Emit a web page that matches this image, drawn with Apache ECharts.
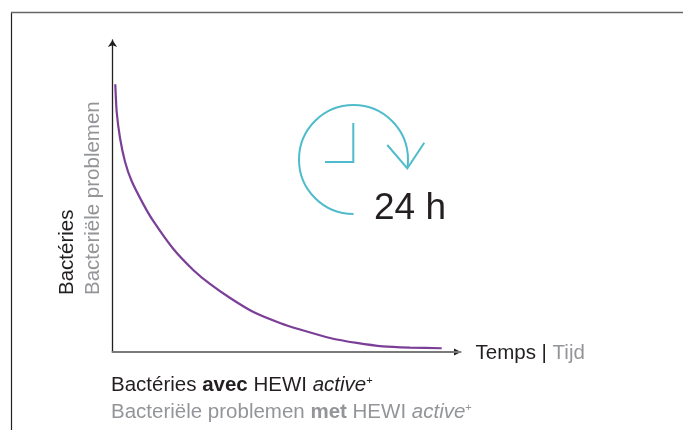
<!DOCTYPE html>
<html>
<head>
<meta charset="utf-8">
<script src="https://cdn.jsdelivr.net/npm/echarts@6/dist/echarts.min.js"></script>
<style>
  html, body { margin: 0; padding: 0; background: #fff; }
  #chart { width: 683px; height: 430px; }
</style>
</head>
<body>
<div id="chart"></div>
<script>
// values, time and bacteria both on a 0-100 scale
const timeValues = [0.8, 1.2, 2.16, 3.6, 5.5, 8.85, 11.7, 17.5, 23.2, 28, 33.8, 40.5, 48.1, 53.9, 62.5, 70.2, 77.7, 85.5, 94.6]
const bacteriaValues = [85.8, 77, 68.6, 61, 54.8, 47.4, 42, 33, 26.3, 21.8, 17.3, 12.8, 9.3, 7.2, 4.5, 2.9, 1.8, 1.4, 1.2]

const fontFamily = '"Liberation Sans", Arial, sans-serif'
const dark = '#231f20'
const grey = '#939598'
const teal = '#4fbccb'

function line(points, color, width) {
  return { type: 'polyline', silent: true, shape: { points }, style: { stroke: color, lineWidth: width, fill: null } }
}

const chart = echarts.init(document.getElementById('chart'), null, { renderer: 'canvas' })
chart.setOption({
  animation: false,
  backgroundColor: '#fff',
  grid: { left: 112.5, top: 40, width: 348, height: 312 },
  xAxis: {
    type: 'value', min: 0, max: 100,
    splitLine: { show: false }, axisTick: { show: false }, axisLabel: { show: false },
    axisLine: { show: true, onZero: false, lineStyle: { color: '#7a7a7a', width: 2 } },
    name: '{a|Temps | }{b|Tijd}',
    nameGap: 15,
    nameTextStyle: {
      padding: [3, 0, 0, 0],
      rich: {
        a: { fontFamily, fontSize: 20.5, color: dark },
        b: { fontFamily, fontSize: 20.5, color: grey }
      }
    }
  },
  yAxis: {
    type: 'value', min: 0, max: 100,
    splitLine: { show: false }, axisTick: { show: false }, axisLabel: { show: false },
    axisLine: { show: true, onZero: false, lineStyle: { color: dark, width: 1.3 }, symbol: ['none', 'arrow'], symbolSize: [7, 7] }
  },
  series: [{
    type: 'line',
    data: timeValues.map((t, i) => [t, bacteriaValues[i]]),
    smooth: 0.2,
    showSymbol: false,
    lineStyle: { color: '#7b3f98', width: 2.2 }
  }],
  graphic: [
    // page frame
    line([[11.5, 12.5], [11.5, 430]], '#222', 1.2),
    line([[11, 12.5], [683, 12.5]], '#666', 1.3),
    // x axis arrow head is darker than its line
    { type: 'polygon', silent: true, shape: { points: [[454, 348.5], [461, 352], [454, 355.5]] }, style: { fill: dark } },
    // clock
    {
      type: 'arc', silent: true,
      shape: { cx: 353.5, cy: 159.5, r: 54.5, startAngle: Math.PI / 2, endAngle: 0.16, clockwise: true },
      style: { stroke: teal, lineWidth: 2, fill: null }
    },
    line([[353.3, 123], [353.3, 162], [325, 162]], teal, 2),
    line([[387.3, 145], [407.3, 168.3], [424.3, 142.7]], teal, 2),
    { type: 'text', silent: true, x: 374, y: 190, style: { text: '24 h', fontFamily, fontSize: 37, fill: dark } },
    // y axis titles
    { type: 'text', silent: true, x: 57, y: 295, rotation: Math.PI / 2, style: { text: 'Bactéries', fontFamily, fontSize: 20.5, fill: dark } },
    { type: 'text', silent: true, x: 83, y: 295, rotation: Math.PI / 2, style: { text: 'Bacteriële problemen', fontFamily, fontSize: 20.5, fill: grey } },
    // legend lines
    {
      type: 'text', silent: true, x: 111, y: 375,
      style: {
        text: '{n|Bactéries }{s|avec}{n| HEWI }{i|active}{u|+}',
        rich: {
          n: { fontFamily, fontSize: 20.5, fill: dark },
          s: { fontFamily, fontSize: 20.5, fontWeight: 'bold', fill: dark },
          i: { fontFamily, fontSize: 20.5, fontStyle: 'italic', fill: dark },
          u: { fontFamily, fontSize: 11, fill: dark, verticalAlign: 'top' }
        }
      }
    },
    {
      type: 'text', silent: true, x: 111, y: 402,
      style: {
        text: '{n|Bacteriële problemen }{s|met}{n| HEWI }{i|active}{u|+}',
        rich: {
          n: { fontFamily, fontSize: 20.5, fill: grey },
          s: { fontFamily, fontSize: 20.5, fontWeight: 'bold', fill: grey },
          i: { fontFamily, fontSize: 20.5, fontStyle: 'italic', fill: grey },
          u: { fontFamily, fontSize: 11, fill: grey, verticalAlign: 'top' }
        }
      }
    }
  ]
})
</script>
</body>
</html>
